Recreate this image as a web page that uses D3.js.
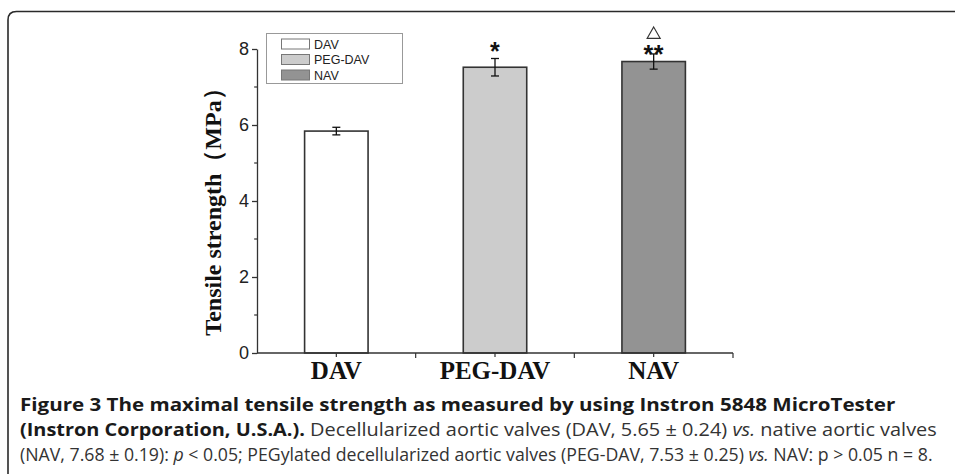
<!DOCTYPE html>
<html>
<head>
<meta charset="utf-8">
<script src="https://cdn.jsdelivr.net/npm/d3@7"></script>
<style>
  body { margin: 0; background: #fff; }
  svg { display: block; }
</style>
</head>
<body>
<div id="chart"></div>
<script>
// values
const categories = ["DAV", "PEG-DAV", "NAV"];
const means = [5.84, 7.52, 7.67];
const errors = [0.1, 0.23, 0.2];
const marks = ["", "*", "**"];
const triangleOn = ["NAV"];
const yTicks = [0, 2, 4, 6, 8];
const yMinor = [1, 3, 5, 7];
const legendLabels = ["DAV", "PEG-DAV", "NAV"];

const fills = ["#ffffff", "#cccccc", "#939393"];

const W = 955, H = 474;
const svg = d3.select("#chart").append("svg")
    .attr("width", W)
    .attr("height", H);

// rounded frame (top + left edges only)
svg.append("path")
    .attr("d", "M8,474 L8,20 Q8,11.5 16.5,11.5 L955,11.5")
    .attr("fill", "none")
    .attr("stroke", "#2a2a2a")
    .attr("stroke-width", 1.6);

const x = d3.scaleBand().domain(categories)
    .range([257, 733])
    .paddingInner(0.6)
    .paddingOuter(0.3);

const y = d3.scaleLinear().domain([0, 8]).range([353, 49]);

const data = categories.map((c, i) => ({ cat: c, v: means[i], e: errors[i], mark: marks[i], fill: fills[i] }));

// bars
svg.append("g").selectAll("rect")
    .data(data)
    .enter().append("rect")
    .attr("x", d => x(d.cat))
    .attr("y", d => y(d.v))
    .attr("width", x.bandwidth())
    .attr("height", d => y(0) - y(d.v))
    .attr("fill", d => d.fill)
    .attr("stroke", "#333")
    .attr("stroke-width", 1.6);

// error bars
const eb = svg.append("g").attr("stroke", "#111").attr("stroke-width", 1.3);
data.forEach(d => {
    const cx = x(d.cat) + x.bandwidth() / 2;
    eb.append("line").attr("x1", cx).attr("x2", cx).attr("y1", y(d.v + d.e)).attr("y2", y(d.v - d.e));
    eb.append("line").attr("x1", cx - 4).attr("x2", cx + 4).attr("y1", y(d.v + d.e)).attr("y2", y(d.v + d.e));
    eb.append("line").attr("x1", cx - 4).attr("x2", cx + 4).attr("y1", y(d.v - d.e)).attr("y2", y(d.v - d.e));
});

// significance marks
svg.append("g").selectAll("text")
    .data(data.filter(d => d.mark))
    .enter().append("text")
    .attr("x", d => x(d.cat) + x.bandwidth() / 2)
    .attr("y", d => y(d.mark.length > 1 ? 8.0 : 8.07) + 14)
    .attr("text-anchor", "middle")
    .attr("font-family", "Liberation Sans, Arial, sans-serif")
    .attr("font-weight", "bold")
    .attr("font-size", 25)
    .attr("letter-spacing", 0.5)
    .attr("fill", "#111")
    .text(d => d.mark);

svg.append("g").selectAll("path")
    .data(triangleOn)
    .enter().append("path")
    .attr("d", d3.symbol(d3.symbolTriangle, 75))
    .attr("transform", d => `translate(${x(d) + x.bandwidth() / 2},${y(8.38)})`)
    .attr("fill", "#fff")
    .attr("stroke", "#333")
    .attr("stroke-width", 1.1);

// y axis
const yAxis = svg.append("g")
    .attr("transform", `translate(${x.range()[0]},0)`)
    .call(d3.axisLeft(y).tickValues(yTicks).tickSize(5).tickSizeOuter(0).tickFormat(d3.format("d")));
yAxis.select(".domain").attr("stroke", "#333").attr("stroke-width", 1.3);
yAxis.selectAll(".tick line").attr("stroke", "#333").attr("stroke-width", 1.3);
yAxis.selectAll(".tick text")
    .attr("font-family", "Liberation Sans, Arial, sans-serif")
    .attr("font-size", 18)
    .attr("fill", "#222")
    .attr("x", -8);
yAxis.selectAll(".minor")
    .data(yMinor)
    .enter().append("line")
    .attr("class", "minor")
    .attr("x1", 0).attr("x2", -3)
    .attr("y1", d => y(d)).attr("y2", d => y(d))
    .attr("stroke", "#333").attr("stroke-width", 1.2);

// x axis
const xAxis = svg.append("g").attr("transform", `translate(0,${y(0)})`);
xAxis.append("line")
    .attr("x1", x.range()[0]).attr("x2", x.range()[1])
    .attr("stroke", "#333").attr("stroke-width", 1.3);
const span = x.range()[1] - x.range()[0];
xAxis.selectAll(".bt")
    .data(d3.range(1, categories.length + 1).map(i => x.range()[0] + i * span / categories.length))
    .enter().append("line")
    .attr("x1", d => d).attr("x2", d => d)
    .attr("y1", 0).attr("y2", 5)
    .attr("stroke", "#333").attr("stroke-width", 1.2);
xAxis.selectAll(".ct")
    .data(categories)
    .enter().append("line")
    .attr("x1", d => x(d) + x.bandwidth() / 2).attr("x2", d => x(d) + x.bandwidth() / 2)
    .attr("y1", 0).attr("y2", 4)
    .attr("stroke", "#333").attr("stroke-width", 1.2);
xAxis.selectAll("text")
    .data(categories)
    .enter().append("text")
    .attr("x", d => x(d) + x.bandwidth() / 2)
    .attr("y", 26)
    .attr("text-anchor", "middle")
    .attr("font-family", "Liberation Serif, Times New Roman, serif")
    .attr("font-weight", "bold")
    .attr("font-size", 25)
    .attr("fill", "#111")
    .text(d => d);

// y label
svg.append("text")
    .attr("transform", "translate(221,206) rotate(-90)")
    .attr("text-anchor", "middle")
    .attr("font-family", "Liberation Serif, Times New Roman, serif")
    .attr("font-weight", "bold")
    .attr("font-size", 24)
    .attr("fill", "#111")
    .text("Tensile strength（MPa）");

// legend
const lg = svg.append("g");
lg.append("rect")
    .attr("x", 266.5).attr("y", 33.5).attr("width", 136).attr("height", 50)
    .attr("fill", "#fff").attr("stroke", "#999").attr("stroke-width", 1);
legendLabels.forEach((l, i) => {
    const ly = 44 + i * 15.5;
    lg.append("rect")
        .attr("x", 281.5).attr("y", ly - 5).attr("width", 28).attr("height", 10)
        .attr("fill", fills[i]).attr("stroke", "#777").attr("stroke-width", 1);
    lg.append("text")
        .attr("x", 314).attr("y", ly + 4.5)
        .attr("font-family", "Liberation Sans Narrow, Liberation Sans, Arial, sans-serif")
        .attr("font-size", 12.5)
        .attr("fill", "#222")
        .text(l);
});

// caption: each line is squeezed horizontally to the width it has in the figure
const cap = svg.append("g")
    .attr("font-family", "Liberation Sans Narrow, Open Sans, sans-serif")
    .attr("font-size", 18.5)
    .attr("fill", "#333");

function capLine(yPos, width, parts) {
    const g = cap.append("g");
    const t = g.append("text").attr("x", 0).attr("y", 0);
    parts.forEach(p => {
        const s = t.append("tspan").text(p.t);
        if (p.b) s.attr("font-weight", "bold").attr("fill", "#1a1a1a");
        if (p.i) s.attr("font-style", "italic");
    });
    const len = t.node().getComputedTextLength();
    g.attr("transform", `translate(20,${yPos}) scale(${width / len},1)`);
}

capLine(411, 876, [
    { t: "Figure 3 The maximal tensile strength as measured by using Instron 5848 MicroTester", b: true }
]);
capLine(436, 917, [
    { t: "(Instron Corporation, U.S.A.).", b: true },
    { t: " Decellularized aortic valves (DAV, 5.65 ± 0.24) " },
    { t: "vs.", i: true },
    { t: " native aortic valves" }
]);
capLine(461, 913, [
    { t: "(NAV, 7.68 ± 0.19): " },
    { t: "p", i: true },
    { t: " < 0.05; PEGylated decellularized aortic valves (PEG-DAV, 7.53 ± 0.25) " },
    { t: "vs.", i: true },
    { t: " NAV: p > 0.05 n = 8." }
]);
</script>
</body>
</html>
